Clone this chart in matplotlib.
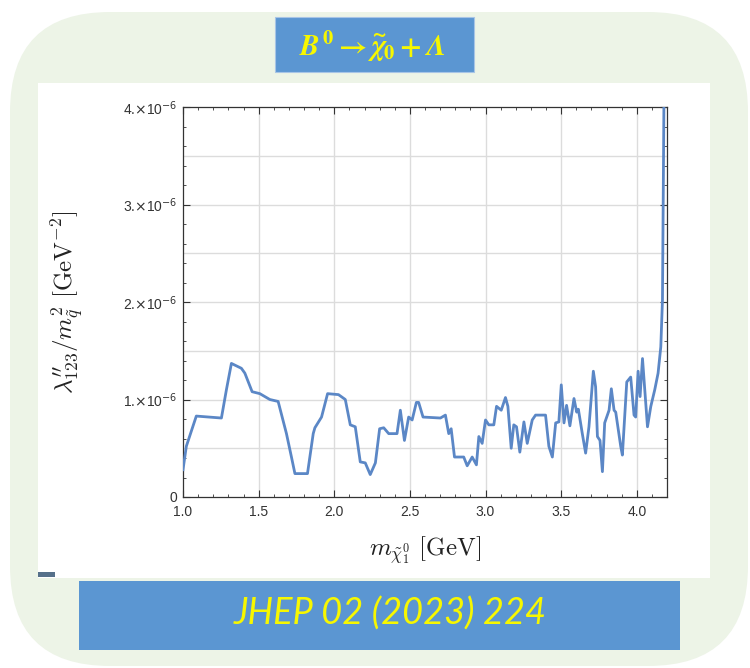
import numpy as np
import matplotlib
matplotlib.use("Agg")
import matplotlib.pyplot as plt
from matplotlib.patches import FancyBboxPatch, Rectangle
from matplotlib.ticker import MultipleLocator, FixedLocator, FuncFormatter

# Upper limit on lambda''_123 / m_squark^2 versus neutralino mass
mass_gev = [
    1.000, 1.022, 1.088, 1.254, 1.287, 1.320, 1.386, 1.409, 1.457, 1.508,
    1.574, 1.629, 1.684, 1.717, 1.740, 1.823, 1.861, 1.872, 1.916, 1.956,
    2.028, 2.073, 2.106, 2.139, 2.172, 2.205, 2.238, 2.272, 2.300, 2.327,
    2.360, 2.415, 2.437, 2.464, 2.492, 2.515, 2.543, 2.558, 2.587, 2.702,
    2.735, 2.757, 2.773, 2.795, 2.856, 2.879, 2.912, 2.940, 2.956, 2.978,
    3.000, 3.022, 3.055, 3.073, 3.104, 3.132, 3.148, 3.170, 3.187, 3.205,
    3.227, 3.254, 3.276, 3.309, 3.331, 3.397, 3.419, 3.442, 3.464, 3.485,
    3.501, 3.519, 3.536, 3.558, 3.585, 3.603, 3.614, 3.640, 3.662, 3.684,
    3.713, 3.728, 3.740, 3.757, 3.773, 3.788, 3.817, 3.832, 3.850, 3.861,
    3.894, 3.905, 3.934, 3.960, 3.982, 3.993, 4.009, 4.022, 4.038, 4.053,
    4.071, 4.093, 4.119, 4.141, 4.159, 4.170, 4.180,
]
# values in units of 1e-6 GeV^-2
coupling_limit = [
    0.28, 0.52, 0.83, 0.81, 1.10, 1.37, 1.32, 1.27, 1.08, 1.06,
    1.00, 0.98, 0.65, 0.41, 0.24, 0.24, 0.65, 0.71, 0.82, 1.06,
    1.05, 1.00, 0.74, 0.72, 0.36, 0.35, 0.23, 0.35, 0.70, 0.71,
    0.65, 0.65, 0.89, 0.58, 0.82, 0.79, 0.97, 0.97, 0.82, 0.81,
    0.84, 0.65, 0.70, 0.41, 0.41, 0.32, 0.41, 0.33, 0.62, 0.55,
    0.79, 0.74, 0.74, 0.93, 0.89, 1.02, 0.93, 0.50, 0.74, 0.72,
    0.46, 0.77, 0.55, 0.79, 0.84, 0.84, 0.52, 0.41, 0.76, 0.77,
    1.15, 0.76, 0.94, 0.73, 1.01, 0.87, 0.90, 0.65, 0.45, 0.72,
    1.29, 1.13, 0.62, 0.58, 0.26, 0.76, 0.89, 1.11, 0.89, 0.87,
    0.52, 0.43, 1.18, 1.23, 0.84, 0.82, 1.29, 1.03, 1.42, 1.10,
    0.72, 0.93, 1.10, 1.27, 1.54, 2.02, 4.10,
]

x_ticks = [1.0, 1.5, 2.0, 2.5, 3.0, 3.5, 4.0]
y_ticks = [0, 1, 2, 3, 4]
y_grid = [0.5, 1.0, 1.5, 2.0, 2.5, 3.0, 3.5]

plt.rcParams['mathtext.it'] = 'STIXGeneral:italic:bold'
plt.rcParams['mathtext.rm'] = 'STIXGeneral:bold'
plt.rcParams['mathtext.bf'] = 'STIXGeneral:bold'
plt.rcParams['mathtext.bfit'] = 'STIXGeneral:italic:bold'

W, H = 750, 668
fig = plt.figure(figsize=(W / 100, H / 100), dpi=100)
fig.patch.set_facecolor('white')

# slide-like backdrop in pixel coordinates
bg = fig.add_axes([0, 0, 1, 1])
bg.set_xlim(0, W)
bg.set_ylim(H, 0)
bg.axis('off')
bg.add_patch(FancyBboxPatch((10, 12), 738, 654,
                            boxstyle="round,pad=0,rounding_size=100",
                            fc='#edf4e7', ec='none'))
bg.add_patch(Rectangle((38, 83), 672, 495, fc='white', ec='none'))
bg.add_patch(Rectangle((275, 17), 199, 55, fc='#5b96d2', ec='#a8c5e6', lw=0.8))
bg.add_patch(Rectangle((79, 581), 601, 69, fc='#5b96d2', ec='none'))
bg.add_patch(Rectangle((38, 572), 17, 5, fc='#56708a', ec='none'))

bg.text(372, 46, r'$B^0 \rightarrow \widetilde{\chi}_0 + \mathbfit{\Lambda}$',
        color='#f7f700', fontsize=21, ha='center', va='center',
        math_fontfamily='custom')
bg.text(390, 614, 'JHEP 02 (2023) 224', color='#f7f700', fontsize=26,
        fontstyle='italic', family='Lato', ha='center', va='center')

# main plot
ax = fig.add_axes([183 / W, 1 - 497 / H, (667 - 183) / W, (497 - 107) / H])
ax.set_facecolor('white')
ax.set_xlim(1.0, 4.2)
ax.set_ylim(0, 4)

for gx in x_ticks[1:]:
    ax.axvline(gx, color='#dcdcdc', lw=1.0, zorder=0)
for gy in y_grid:
    ax.axhline(gy, color='#dcdcdc', lw=1.0, zorder=0)

ax.plot(mass_gev, coupling_limit, color='#5b87c6', lw=2.0,
        solid_joinstyle='round', zorder=3)

ax.xaxis.set_major_locator(FixedLocator(x_ticks))
ax.xaxis.set_minor_locator(MultipleLocator(0.1))
ax.yaxis.set_major_locator(FixedLocator(y_ticks))
ax.yaxis.set_minor_locator(MultipleLocator(0.2))
ax.xaxis.set_major_formatter(FuncFormatter(lambda v, p: f'{v:.1f}'))
ax.yaxis.set_major_formatter(FuncFormatter(
    lambda v, p: '0' if v == 0 else f'{int(round(v))}.$\\times$10$^{{-6}}$'))

ax.tick_params(which='both', direction='in', top=True, right=True,
               color='#333333', labelcolor='#333333', labelsize=10)
ax.tick_params(which='major', length=5, width=0.8, pad=4)
ax.tick_params(axis='x', which='major', pad=6)
ax.tick_params(which='minor', length=2.5, width=0.6)
for lab in ax.get_xticklabels() + ax.get_yticklabels():
    lab.set_family('Liberation Sans')
for s in ax.spines.values():
    s.set_color('#333333')
    s.set_linewidth(0.9)

ax.set_xlabel(r'$m_{\tilde{\chi}^0_1}\ [\mathrm{GeV}]$', fontsize=18,
              math_fontfamily='cm', color='#222222', labelpad=11)
ax.set_ylabel(r"$\lambda^{\prime\prime}_{123}/m^2_{\tilde{q}}\ [\mathrm{GeV}^{-2}]$",
              fontsize=18, math_fontfamily='cm', color='#222222', labelpad=27)

fig.savefig('out.png', dpi=100, facecolor='white')
